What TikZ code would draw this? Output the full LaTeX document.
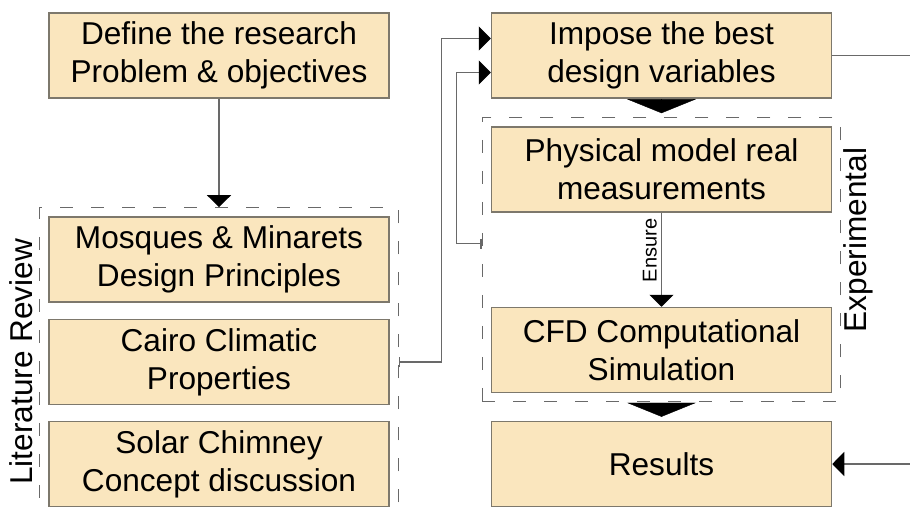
\documentclass[tikz,border=0pt]{standalone}
\usepackage{fontspec}
\setmainfont{Liberation Sans}
\usetikzlibrary{arrows.meta,fit}
\definecolor{boxfill}{RGB}{250,230,190}
\definecolor{boxline}{RGB}{125,120,108}
\definecolor{lnk}{RGB}{105,105,105}
\newcommand\bigtxt{\fontsize{31.6}{38}\selectfont}

\begin{document}
\begin{tikzpicture}[x=1pt,y=-1pt,
  box/.style={draw=boxline,line width=1.5pt,fill=boxfill,minimum width=340pt,minimum height=85pt,align=center,font=\bigtxt},
  group/.style={draw=lnk,line width=1.2pt,dash pattern=on 13pt off 18pt,inner sep=8.5pt},
  conn/.style={draw=lnk,line width=1.2pt,-{Triangle[length=12pt,width=24pt,black]}},
  fb/.style={conn,{Bar[width=10pt]}-{Triangle[length=12pt,width=24pt,black]}},
  blk/.style={line width=0.4pt,shorten <=3pt,shorten >=4pt,-{Triangle[length=14pt,width=69pt]}}]
\useasboundingbox (0,0) rectangle (910,509);
% left column
\node[box] (define) at (219,55.5) {Define the research\\Problem \& objectives};
\node[box] (mosques) at (219,259.5) {Mosques \& Minarets\\Design Principles};
\node[box] (cairo) at (219,362) {Cairo Climatic\\Properties};
\node[box] (solar) at (219,464) {Solar Chimney\\Concept discussion};
% right column
\node[box] (impose) at (661.5,55.5) {Impose the best\\design variables};
\node[box] (physical) at (661.5,169.5) {Physical model real\\measurements};
\node[box] (cfd) at (661.5,350) {CFD Computational\\Simulation};
\node[box] (results) at (661.5,464) {Results};
% groups
\node[group,fit=(mosques)(solar)] (litrev) {};
\node[group,fit=(physical)(cfd)] (expbox) {};
\node[rotate=90,anchor=south,inner sep=6pt,font=\bigtxt] at (litrev.west) {Literature Review};
\node[rotate=90,anchor=north,font=\bigtxt] (explabel) at (840,240) {Experimental};
\coordinate (e1) at (912,55.5);
\coordinate (e2) at (912,464);
% connectors
\draw[conn] (define) -- (define |- litrev.north);
\draw[fb] (litrev.east |- cairo) -- ++(43,0) |- ([yshift=17pt]impose.west);
\draw[fb] ([yshift=16pt]expbox.west) -- ++(-25,0) |- ([yshift=-17pt]impose.west);
\draw[conn] (physical) -- node[pos=0.4,rotate=90,anchor=south,inner sep=4pt,font=\fontsize{20}{24}\selectfont]{Ensure} (cfd);
\draw[draw=lnk,line width=1.2pt] (impose.east) -- (impose.east -| e1);
\draw[conn] (results.east -| e2) -- (results.east);
\draw[blk] (impose) -- (expbox);
\draw[blk] (expbox) -- (results);
\end{tikzpicture}
\end{document}
